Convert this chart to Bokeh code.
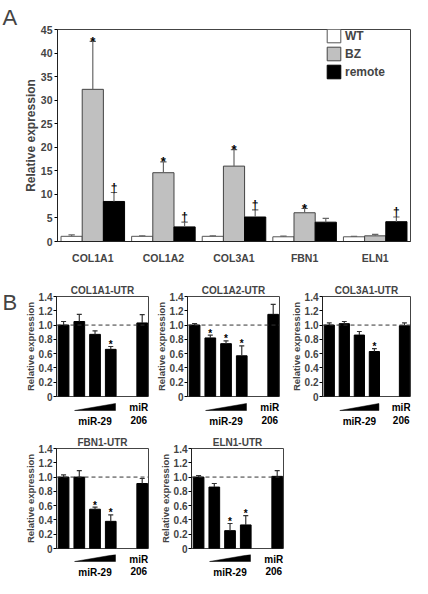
from bokeh.plotting import figure
from bokeh.models import (ColumnDataSource, FactorRange, Legend, LegendItem, Span,
                          FixedTicker, Range1d, NumeralTickFormatter)
from bokeh.transform import dodge
from bokeh.layouts import column, row
from bokeh.core.properties import value
from bokeh.embed import file_html
from bokeh.resources import INLINE

FONT = "Liberation Sans"

# ---------------- Panel A data ----------------
genes = ["COL1A1", "COL1A2", "COL3A1", "FBN1", "ELN1"]
wt_mean = [1.1, 1.1, 1.1, 1.0, 1.0]
wt_top = [1.4, 1.2, 1.2, 1.15, 1.1]
bz_mean = [32.3, 14.6, 16.0, 6.1, 1.2]
bz_top = [42.5, 16.9, 19.5, 7.0, 1.5]
remote_mean = [8.5, 3.1, 5.2, 4.1, 4.2]
remote_top = [10.4, 4.1, 6.7, 4.9, 5.2]
bz_mark = ["*", "*", "*", "*", ""]
remote_mark = ["\u2020", "\u2020", "\u2020", "", "\u2020"]
a_yticks = [0, 5, 10, 15, 20, 25, 30, 35, 40, 45]
series_names = ["WT", "BZ", "remote"]

# ---------------- Panel B data ----------------
b_pos = [0, 1, 2, 3, 5]          # four miR-29 doses, gap, miR-206
b_yticks = [0, 0.2, 0.4, 0.6, 0.8, 1.0, 1.2, 1.4]
b_titles = ["COL1A1-UTR", "COL1A2-UTR", "COL3A1-UTR", "FBN1-UTR", "ELN1-UTR"]
col1a1_mean = [1.0, 1.05, 0.87, 0.66, 1.03]
col1a1_top = [1.05, 1.15, 0.92, 0.70, 1.145]
col1a1_mark = ["", "", "", "*", ""]
col1a2_mean = [1.0, 0.82, 0.74, 0.57, 1.15]
col1a2_top = [1.02, 0.86, 0.78, 0.71, 1.29]
col1a2_mark = ["", "*", "*", "*", ""]
col3a1_mean = [1.0, 1.02, 0.86, 0.63, 0.99]
col3a1_top = [1.03, 1.05, 0.91, 0.67, 1.03]
col3a1_mark = ["", "", "", "*", ""]
fbn1_mean = [1.0, 1.0, 0.55, 0.38, 0.91]
fbn1_top = [1.03, 1.09, 0.58, 0.47, 0.98]
fbn1_mark = ["", "", "*", "*", ""]
eln1_mean = [1.0, 0.86, 0.25, 0.33, 1.01]
eln1_top = [1.02, 0.91, 0.35, 0.46, 1.09]
eln1_mark = ["", "", "*", "*", ""]
dose_label = "miR-29"
ctrl_label = ["miR", "206"]


def letter_fig(letter, w, h, top_border):
    # panel letter drawn as the title of a narrow empty figure
    f = figure(width=w, height=h, x_range=Range1d(0, 1), y_range=Range1d(0, 1),
               x_axis_location=None, y_axis_location=None, title=letter,
               output_backend="svg", toolbar_location=None,
               min_border_left=0, min_border_right=0, min_border_top=top_border,
               min_border_bottom=0)
    f.grid.visible = False
    f.outline_line_color = None
    f.title.text_font = FONT
    f.title.text_font_size = "22px"
    f.title.text_font_style = "normal"
    f.title.align = "left"
    f.title.offset = 2
    f.title.standoff = 0
    return f


# ---------------- Panel A ----------------
A_BL, A_BR, A_BT, A_BB = 35, 2, 8, 20
A_FH = 238
A_W = 392
pA = figure(width=A_W, height=A_BT + A_FH + A_BB, title=None,
            x_range=FactorRange(*genes), y_range=Range1d(a_yticks[0], a_yticks[-1]),
            output_backend="svg", toolbar_location=None,
            min_border_left=A_BL, min_border_right=A_BR,
            min_border_top=A_BT, min_border_bottom=A_BB)
srcA = ColumnDataSource(dict(gene=genes, wt=wt_mean, wt_top=wt_top,
                             bz=bz_mean, bz_top=bz_top,
                             remote=remote_mean, remote_top=remote_top,
                             bz_mark=bz_mark, remote_mark=remote_mark))
W = 0.3
rend = []
styles = [("wt", -W, "white", "#555555"), ("bz", 0.0, "#c0c0c0", "#444444"),
          ("remote", W, "black", "black")]
for key, off, fc, lc in styles:
    r = pA.vbar(x=dodge("gene", off, range=pA.x_range), top=key, width=W, source=srcA,
                fill_color=fc, line_color=lc, line_width=1)
    rend.append(r)
for key, off, fc, lc in styles:
    pA.segment(x0=dodge("gene", off, range=pA.x_range), y0=key,
               x1=dodge("gene", off, range=pA.x_range), y1=key + "_top",
               source=srcA, line_color="#666666", line_width=1.2)
    pA.segment(x0=dodge("gene", off - 0.045, range=pA.x_range), y0=key + "_top",
               x1=dodge("gene", off + 0.045, range=pA.x_range), y1=key + "_top",
               source=srcA, line_color="#666666", line_width=1.2)
pA.text(x=dodge("gene", 0.0, range=pA.x_range), y="bz_top", text="bz_mark", source=srcA,
        text_align="center", text_baseline="alphabetic", y_offset=0,
        text_font=value(FONT), text_font_size="13px", text_font_style="bold", text_color="black")
pA.text(x=dodge("gene", W, range=pA.x_range), y="remote_top", text="remote_mark", source=srcA,
        text_align="center", text_baseline="alphabetic", y_offset=-5,
        text_font=value(FONT), text_font_size="12px", text_font_style="bold", text_color="black")

legend = Legend(items=[LegendItem(label=n, renderers=[r]) for n, r in zip(series_names, rend)],
                location=(268, A_FH - 24 - 53), padding=0, margin=0, spacing=1,
                glyph_width=17, glyph_height=17, label_height=17, label_standoff=3,
                label_text_font=FONT, label_text_font_size="12px", label_text_font_style="bold",
                border_line_color=None, background_fill_alpha=0)
pA.add_layout(legend)

pA.xgrid.visible = False
pA.ygrid.visible = False
pA.outline_line_color = "#444444"
ya = pA.yaxis[0]
ya.ticker = FixedTicker(ticks=a_yticks)
ya.minor_tick_line_color = None
ya.major_tick_in = 0
ya.major_tick_out = 3
ya.major_label_standoff = 2
ya.major_label_text_font = FONT
ya.major_label_text_font_size = "10.5px"
ya.major_label_text_font_style = "bold"
ya.axis_label = "Relative expression"
ya.axis_label_text_font = FONT
ya.axis_label_text_font_size = "12px"
ya.axis_label_text_font_style = "bold"
ya.axis_label_standoff = 0
ya.axis_line_color = "#222222"
xa = pA.xaxis[0]
xa.major_tick_line_color = None
xa.major_label_standoff = 4
xa.major_label_text_font = FONT
xa.major_label_text_font_size = "10.5px"
xa.major_label_text_font_style = "bold"
xa.axis_line_color = "#222222"

letA = letter_fig("A", 20, A_BT + A_FH + A_BB, 29)

# ---------------- Panel B ----------------
B_FH = 100
B_XR = (-0.45, 5.4)


def make_b(title, mean, top, mark, bl, fw, br, bt, strip_h, wedge_px, lab_px):
    src = ColumnDataSource(dict(x=b_pos, mean=mean, top=top, mark=mark,
                                c0=[v - 0.16 for v in b_pos], c1=[v + 0.16 for v in b_pos]))
    xr = Range1d(*B_XR)
    p = figure(width=bl + fw + br, height=bt + B_FH + 6,
               x_range=xr, y_range=Range1d(b_yticks[0], b_yticks[-1]),
               output_backend="svg", toolbar_location=None,
               min_border_left=bl, min_border_right=br, min_border_top=bt, min_border_bottom=6,
               title=title)
    p.title.align = "center"
    p.title.text_font = FONT
    p.title.text_font_size = "10px"
    p.title.text_font_style = "bold"
    p.title.standoff = 1
    p.vbar(x="x", top="mean", width=0.68, source=src, fill_color="black", line_color="black")
    p.segment(x0="x", y0="mean", x1="x", y1="top", source=src, line_color="#333333", line_width=1.2)
    p.segment(x0="c0", y0="top", x1="c1", y1="top", source=src, line_color="#333333", line_width=1.2)
    p.add_layout(Span(location=1.0, dimension="width", line_dash="4 3", line_color="#333333",
                      line_width=1))
    p.text(x="x", y="top", text="mark", source=src, text_align="center",
           text_baseline="alphabetic", y_offset=-2, text_font=value(FONT),
           text_font_size="10px", text_font_style="bold", text_color="black")
    p.xaxis.visible = False
    p.xgrid.visible = False
    p.ygrid.visible = False
    p.outline_line_color = "#444444"
    y = p.yaxis[0]
    y.ticker = FixedTicker(ticks=b_yticks)
    y.formatter = NumeralTickFormatter(format="0.0")
    y.major_label_overrides = {0: "0"}
    y.minor_tick_line_color = None
    y.major_tick_in = 0
    y.major_tick_out = 3
    y.major_label_standoff = 1
    y.major_label_text_font = FONT
    y.major_label_text_font_size = "10px"
    y.major_label_text_font_style = "bold"
    y.axis_label = "Relative expression"
    y.axis_label_text_font = FONT
    y.axis_label_text_font_size = "9.5px"
    y.axis_label_text_font_style = "bold"
    y.axis_label_standoff = 0
    y.axis_line_color = "#222222"

    # strip below the frame: dose wedge and treatment labels
    s = figure(width=bl + fw + br, height=strip_h, x_range=xr, y_range=Range1d(-strip_h, 0),
               x_axis_location=None, y_axis_location=None, title=None,
               output_backend="svg", toolbar_location=None,
               min_border_left=bl, min_border_right=br, min_border_top=0, min_border_bottom=0)
    s.grid.visible = False
    s.outline_line_color = None
    xl = b_pos[1] - 0.3
    xrr = b_pos[3] + 0.3
    s.patch(x=[xl, xrr, xrr], y=[-wedge_px[1], -wedge_px[0], -wedge_px[1]],
            fill_color="black", line_color="black", line_width=0.5)
    s.text(x=[(b_pos[1] + b_pos[3]) / 2, b_pos[4] - 0.22, b_pos[4] - 0.22],
           y=[-lab_px[1], -lab_px[0], -lab_px[1]],
           text=[dose_label, ctrl_label[0], ctrl_label[1]],
           text_align="center", text_baseline="top", text_font=value(FONT),
           text_font_size="10px", text_font_style="bold", text_color="black")
    return column(p, s)


r1_strip = 27
r1_wedge = (1, 8)
r1_lab = (-1, 13)
r2_strip = 24
r2_wedge = (0, 7)
r2_lab = (-1, 12)
b1 = make_b(b_titles[0], col1a1_mean, col1a1_top, col1a1_mark, 36, 92, 2, 30, r1_strip, r1_wedge, r1_lab)
b2 = make_b(b_titles[1], col1a2_mean, col1a2_top, col1a2_mark, 37, 92, 2, 30, r1_strip, r1_wedge, r1_lab)
b3 = make_b(b_titles[2], col3a1_mean, col3a1_top, col3a1_mark, 41, 88, 2, 30, r1_strip, r1_wedge, r1_lab)
b4 = make_b(b_titles[3], fbn1_mean, fbn1_top, fbn1_mark, 56, 92, 2, 19, r2_strip, r2_wedge, r2_lab)
b5 = make_b(b_titles[4], eln1_mean, eln1_top, eln1_mark, 41, 92, 2, 19, r2_strip, r2_wedge, r2_lab)

letB = letter_fig("B", 20, 30 + B_FH + 6 + r1_strip, 48)

layout = column(row(letA, pA), row(letB, b1, b2, b3), row(b4, b5))
open("out.html", "w").write(file_html(layout, INLINE))
